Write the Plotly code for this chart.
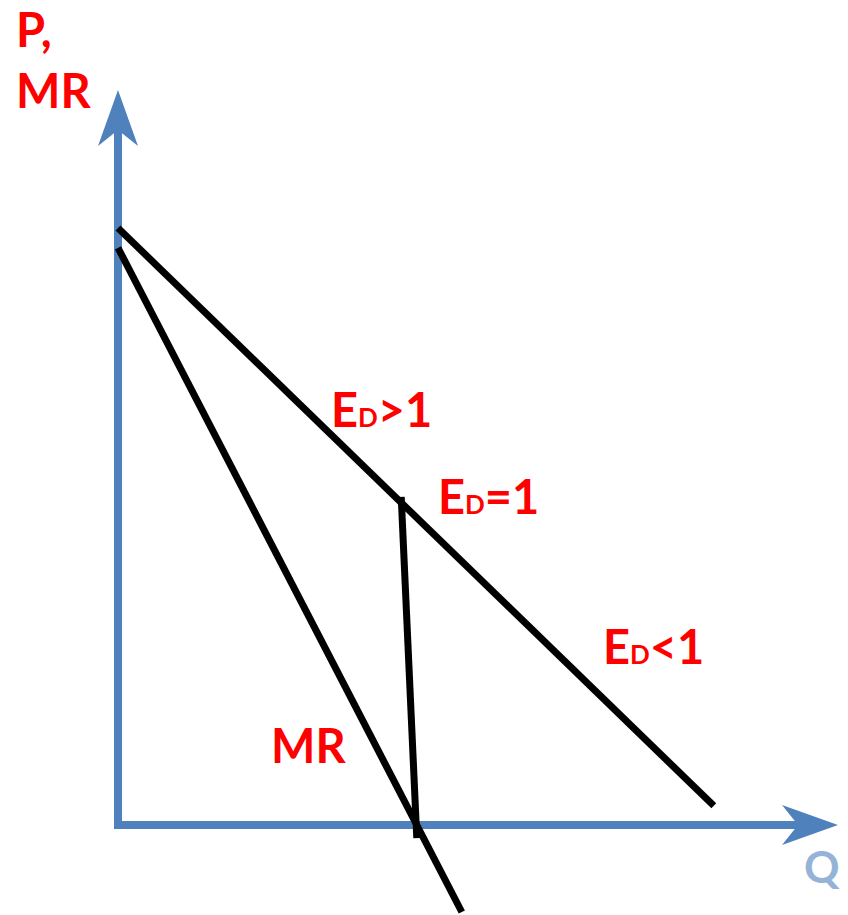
import plotly.graph_objects as go

# ---- data (economic units: Q horizontal, P/MR vertical) ----
demand_q = [0.0, 9.93]
demand_p = [9.95, 0.32]
mr_q = [0.0, 5.73]
mr_p = [9.62, -1.45]
unit_q = [4.72, 4.98]
unit_p = [5.47, -0.22]
q_axis_max = 12.0
p_axis_max = 12.25

# ---- style ----
AX_BLUE = "#4F81BD"
Q_BLUE = "#95B3D7"
RED = "#FF0000"
FONT = "Lato"
PX = 60.0      # pixels per unit
OFF = 8        # page offset of the figure (body margin)
W, H = 840, 907  # figure fits the 848x915 window after the body margin
head_len = 56 / PX
head_notch = 40 / PX
head_half = 20 / PX
shaft_w = 8
curve_w = 7

def px2q(x):
    return (x - 118) / PX

def px2p(y):
    return (825 - y) / PX

fig = go.Figure()

# axes shafts
ext = (shaft_w / 2) / PX
fig.add_trace(go.Scatter(x=[-ext, q_axis_max - head_notch], y=[0, 0], mode="lines",
                         line=dict(color=AX_BLUE, width=shaft_w), hoverinfo="skip"))
fig.add_trace(go.Scatter(x=[0, 0], y=[-ext, p_axis_max - head_notch], mode="lines",
                         line=dict(color=AX_BLUE, width=shaft_w), hoverinfo="skip"))
# arrowheads
fig.add_trace(go.Scatter(
    x=[q_axis_max, q_axis_max - head_len, q_axis_max - head_notch, q_axis_max - head_len, q_axis_max],
    y=[0, head_half, 0, -head_half, 0], mode="lines", fill="toself",
    fillcolor=AX_BLUE, line=dict(width=0, color=AX_BLUE), hoverinfo="skip"))
fig.add_trace(go.Scatter(
    x=[0, head_half, 0, -head_half, 0],
    y=[p_axis_max, p_axis_max - head_len, p_axis_max - head_notch, p_axis_max - head_len, p_axis_max],
    mode="lines", fill="toself",
    fillcolor=AX_BLUE, line=dict(width=0, color=AX_BLUE), hoverinfo="skip"))

# curves
for xs, ys in [(demand_q, demand_p), (mr_q, mr_p), (unit_q, unit_p)]:
    fig.add_trace(go.Scatter(x=xs, y=ys, mode="lines",
                             line=dict(color="black", width=curve_w), hoverinfo="skip"))

BIG = 47
SMALL = 26

def label(text, x_px, y_px, color=RED, size=BIG):
    fig.add_annotation(x=px2q(x_px), y=px2p(y_px), text=text, showarrow=False,
                       xanchor="left", yanchor="middle", borderpad=0,
                       font=dict(family=FONT, size=size, color=color, weight="bold"))

sub = '<span style="font-size:%dpx">D</span>' % SMALL
label("P,", 15, 29)
label("MR", 15, 90)
label("E" + sub + "&gt;1", 330, 409)
label("E" + sub + "=1", 437, 496)
label("E" + sub + "&lt;1", 602, 646)
label("MR", 270, 745)
label("Q", 803, 866, color=Q_BLUE, size=44)

fig.update_layout(
    width=W, height=H,
    margin=dict(l=0, r=0, t=0, b=0),
    paper_bgcolor="white", plot_bgcolor="white",
    showlegend=False,
    xaxis=dict(range=[px2q(OFF), px2q(OFF + W)], visible=False, fixedrange=True),
    yaxis=dict(range=[px2p(OFF + H), px2p(OFF)], visible=False, fixedrange=True),
)

fig.write_html("out.html")
